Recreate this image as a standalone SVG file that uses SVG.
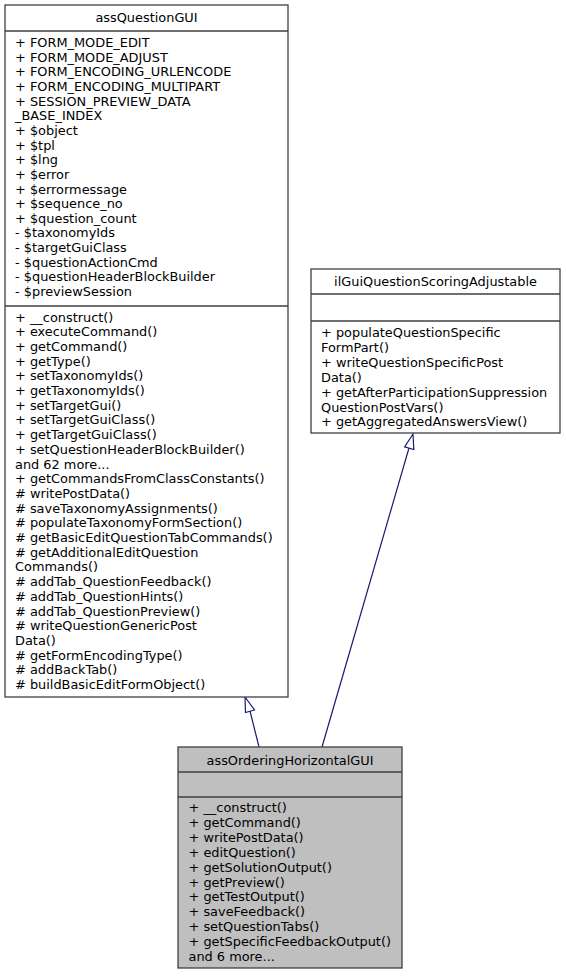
<svg xmlns="http://www.w3.org/2000/svg" width="566" height="976" viewBox="0 0 566 976">
<style>
.box{fill:#ffffff;stroke:#404040;stroke-width:1.3}
.cur{fill:#bfbfbf;stroke:#404040;stroke-width:1.3}
.sep{stroke:#404040;stroke-width:1.3}
text{font-family:"DejaVu Sans",sans-serif;font-size:12.9px;fill:#000}
.t{text-anchor:middle}
.edge{fill:none;stroke:#191970;stroke-width:1.2}
.head{fill:#ffffff;stroke:#191970;stroke-width:1.2}
</style>
<rect width="566" height="976" fill="#ffffff"/>
<g id="edges">
<path class="edge" d="M259,747 L250,711"/>
<polygon class="head" points="245,697 254.5,710 245.5,712.5"/>
<path class="edge" d="M322,747 L409,448"/>
<polygon class="head" points="413,434 413.8,449.5 404.6,446.8"/>
</g>
<g id="assQuestionGUI">
<rect class="box" x="5" y="5" width="283" height="692"/>
<line class="sep" x1="5" y1="31" x2="288" y2="31"/>
<line class="sep" x1="5" y1="306" x2="288" y2="306"/>
<text class="t" x="146.5" y="22">assQuestionGUI</text>
<text x="15" y="47">+ FORM_MODE_EDIT</text>
<text x="15" y="61.65">+ FORM_MODE_ADJUST</text>
<text x="15" y="76.3">+ FORM_ENCODING_URLENCODE</text>
<text x="15" y="90.95">+ FORM_ENCODING_MULTIPART</text>
<text x="15" y="105.6">+ SESSION_PREVIEW_DATA</text>
<text x="15" y="120.25">_BASE_INDEX</text>
<text x="15" y="134.9">+ $object</text>
<text x="15" y="149.55">+ $tpl</text>
<text x="15" y="164.2">+ $lng</text>
<text x="15" y="178.85">+ $error</text>
<text x="15" y="193.5">+ $errormessage</text>
<text x="15" y="208.15">+ $sequence_no</text>
<text x="15" y="222.8">+ $question_count</text>
<text x="15" y="237.45">- $taxonomyIds</text>
<text x="15" y="252.1">- $targetGuiClass</text>
<text x="15" y="266.75">- $questionActionCmd</text>
<text x="15" y="281.4">- $questionHeaderBlockBuilder</text>
<text x="15" y="296.05">- $previewSession</text>
<text x="15" y="321.5">+ __construct()</text>
<text x="15" y="336.2">+ executeCommand()</text>
<text x="15" y="350.9">+ getCommand()</text>
<text x="15" y="365.6">+ getType()</text>
<text x="15" y="380.3">+ setTaxonomyIds()</text>
<text x="15" y="395">+ getTaxonomyIds()</text>
<text x="15" y="409.7">+ setTargetGui()</text>
<text x="15" y="424.4">+ setTargetGuiClass()</text>
<text x="15" y="439.1">+ getTargetGuiClass()</text>
<text x="15" y="453.8">+ setQuestionHeaderBlockBuilder()</text>
<text x="15" y="468.5">and 62 more...</text>
<text x="15" y="483.2">+ getCommandsFromClassConstants()</text>
<text x="15" y="497.9"># writePostData()</text>
<text x="15" y="512.6"># saveTaxonomyAssignments()</text>
<text x="15" y="527.3"># populateTaxonomyFormSection()</text>
<text x="15" y="542"># getBasicEditQuestionTabCommands()</text>
<text x="15" y="556.7"># getAdditionalEditQuestion</text>
<text x="15" y="571.4">Commands()</text>
<text x="15" y="586.1"># addTab_QuestionFeedback()</text>
<text x="15" y="600.8"># addTab_QuestionHints()</text>
<text x="15" y="615.5"># addTab_QuestionPreview()</text>
<text x="15" y="630.2"># writeQuestionGenericPost</text>
<text x="15" y="644.9">Data()</text>
<text x="15" y="659.6"># getFormEncodingType()</text>
<text x="15" y="674.3"># addBackTab()</text>
<text x="15" y="689"># buildBasicEditFormObject()</text>
</g>
<g id="ilGuiQuestionScoringAdjustable">
<rect class="box" x="311" y="269" width="249" height="164"/>
<line class="sep" x1="311" y1="294" x2="560" y2="294"/>
<line class="sep" x1="311" y1="321" x2="560" y2="321"/>
<text class="t" x="435.5" y="286">ilGuiQuestionScoringAdjustable</text>
<text x="321" y="337">+ populateQuestionSpecific</text>
<text x="321" y="351.9">FormPart()</text>
<text x="321" y="366.8">+ writeQuestionSpecificPost</text>
<text x="321" y="381.7">Data()</text>
<text x="321" y="396.6">+ getAfterParticipationSuppression</text>
<text x="321" y="411.5">QuestionPostVars()</text>
<text x="321" y="426.4">+ getAggregatedAnswersView()</text>
</g>
<g id="assOrderingHorizontalGUI">
<rect class="cur" x="178" y="747" width="224" height="221"/>
<line class="sep" x1="178" y1="772" x2="402" y2="772"/>
<line class="sep" x1="178" y1="797" x2="402" y2="797"/>
<text class="t" x="290" y="765">assOrderingHorizontalGUI</text>
<text x="188.5" y="812">+ __construct()</text>
<text x="188.5" y="826.9">+ getCommand()</text>
<text x="188.5" y="841.8">+ writePostData()</text>
<text x="188.5" y="856.7">+ editQuestion()</text>
<text x="188.5" y="871.6">+ getSolutionOutput()</text>
<text x="188.5" y="886.5">+ getPreview()</text>
<text x="188.5" y="901.4">+ getTestOutput()</text>
<text x="188.5" y="916.3">+ saveFeedback()</text>
<text x="188.5" y="931.2">+ setQuestionTabs()</text>
<text x="188.5" y="946.1">+ getSpecificFeedbackOutput()</text>
<text x="188.5" y="961">and 6 more...</text>
</g>
</svg>
